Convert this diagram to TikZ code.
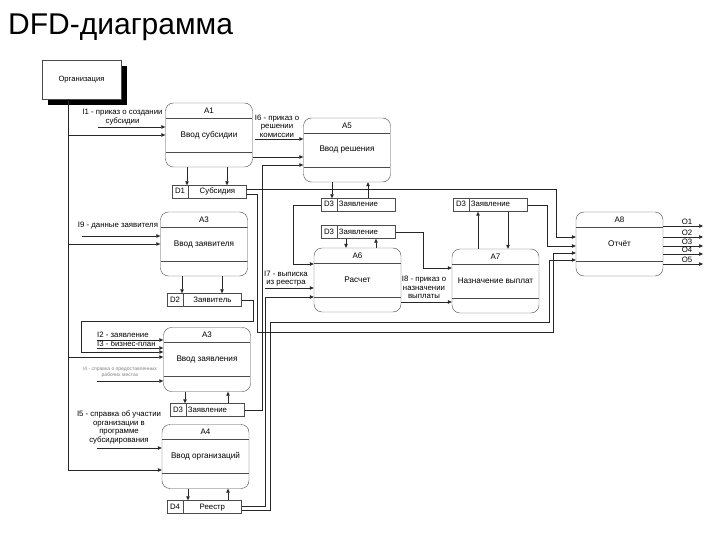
\documentclass[tikz,border=0pt]{standalone}
\usepackage{fontspec}
\setmainfont{Liberation Sans}
\usetikzlibrary{positioning}
\usetikzlibrary{arrows.meta}
\usetikzlibrary{shadows}

\tikzset{
  proc/.style={draw=black!70, rounded corners=8pt, minimum width=87pt, minimum height=64pt,
    inner sep=0pt, align=center, font=\fontsize{8.2}{9.5}\selectfont,
    path picture={
      \draw[black!70] ([yshift=-15pt]path picture bounding box.north west) -- ([yshift=-15pt]path picture bounding box.north east);
      \draw[black!70] ([yshift=15pt]path picture bounding box.south west) -- ([yshift=15pt]path picture bounding box.south east);
    }},
  pid/.style={label={[anchor=center, yshift=-7.5pt, font=\fontsize{8}{9}\selectfont]north:#1}},
  sid/.style={draw=black!70, minimum width=16pt, minimum height=13pt, inner sep=0pt,
    text height=5.5pt, text depth=1.5pt, font=\fontsize{7.8}{8.5}\selectfont},
  sname/.style={sid, minimum width=58pt},
  snamel/.style={sname, text width=55pt, inner xsep=1.5pt, align=left},
  flow/.style={draw=black!85, line width=0.5pt, -{Triangle[length=4pt, width=3.5pt]}},
  wire/.style={draw=black!85, line width=0.5pt},
  lbl/.style={font=\fontsize{7.8}{8.6}\selectfont, align=center, inner sep=0pt},
  faint/.style={font=\fontsize{5}{6}\selectfont, align=center, inner sep=0pt, text=black!50}
}

\begin{document}
\begin{tikzpicture}[x=1pt, y=-1pt]
  \useasboundingbox (0,0) rectangle (720,540);

  % title and external entity
  \node[anchor=base west, inner sep=0pt, font=\fontsize{30}{32}\selectfont] (title) at (8,35) {DFD-диаграмма};
  \node[draw=black!70, fill=white, minimum width=79pt, minimum height=39pt, font=\fontsize{7.6}{8.5}\selectfont,
        drop shadow={shadow xshift=6pt, shadow yshift=-6pt, opacity=1, fill=black}] (org) at (81.5,79.5) {Организация};

  % processes
  \node[proc, pid=A1] (a1) at (209,135) {Ввод субсидии};
  \node[proc, pid=A5] (a5) at (347,150) {Ввод решения};
  \node[proc, pid=A3] (a3) at (204,244) {Ввод заявителя};
  \node[proc, pid=A6] (a6) at (357.5,280) {Расчет};
  \node[proc, pid=A7] (a7) at (495.5,281) {Назначение выплат};
  \node[proc, pid=A8] (a8) at (619.5,244) {Отчёт};
  \node[proc, pid=A3] (a3b) at (207,359.5) {Ввод заявления};
  \node[proc, pid=A4] (a4) at (205.5,456.5) {Ввод организаций};

  % data stores
  \node[sid] (d1) at (180,192) {D1};
  \node[sname, right=0pt of d1] (d1n) {Субсидия};
  \node[sid] (d2) at (175,300) {D2};
  \node[sname, right=0pt of d2] (d2n) {Заявитель};
  \node[sid] (d3a) at (329,205) {D3};
  \node[snamel, right=0pt of d3a] (d3an) {Заявление};
  \node[sid] (d3b) at (329,232) {D3};
  \node[snamel, right=0pt of d3b] (d3bn) {Заявление};
  \node[sid] (d3c) at (461,205) {D3};
  \node[snamel, right=0pt of d3c] (d3cn) {Заявление};
  \node[sid] (d3d) at (178,410) {D3};
  \node[snamel, right=0pt of d3d] (d3dn) {Заявление};
  \node[sid] (d4) at (175,507) {D4};
  \node[sname, right=0pt of d4] (d4n) {Реестр};

  % organisation bus
  \coordinate (bus) at ([xshift=-13.5pt]org.south);
  \draw[flow] (bus) |- (a1.west);
  \draw[flow] (bus) |- (a3.west);
  \draw[flow] (bus) |- ([yshift=2.5pt]a3b.west);
  \draw[flow] (bus) |- ([yshift=-13.5pt]a4.west);

  % inputs
  \coordinate (i1) at (98,127);
  \coordinate (i6) at (255,139);
  \coordinate (i9) at (82,236);
  \coordinate (i2) at (97,340);
  \coordinate (i3) at (97,348);
  \coordinate (i4) at (97,381);
  \coordinate (i5) at (97,448);
  \coordinate (i7) at (265,288);
  \draw[flow] (i1) -- (i1 -| a1.west);
  \draw[flow] (i6) -- (i6 -| a5.west);
  \draw[flow] (i9) -- (i9 -| a3.west);
  \draw[flow] (i2) -- (i2 -| a3b.west);
  \draw[flow] (i3) -- (i3 -| a3b.west);
  \draw[flow] (i4) -- (i4 -| a3b.west);
  \draw[flow] (i5) -- (i5 -| a4.west);
  \draw[flow] (i7) -- (i7 -| a6.west);
  \node[lbl] (li1) at (122.5,117) {I1 - приказ о создании\\субсидии};
  \node[lbl] (li6) at (277,126) {I6 - приказ о\\решении\\комиссии};
  \node[lbl] (li9) at (118,226) {I9 - данные заявителя};
  \node[lbl, anchor=west] (li2) at (97,335) {I2 - заявление};
  \node[lbl, anchor=west] (li3) at (97,344) {I3 - бизнес-план};
  \node[faint] (li4) at (120,372) {I4 - справка о предоставленных\\рабочих местах};
  \node[lbl] (li5) at (119,427.5) {I5 - справка об участии\\организации в\\программе\\субсидирования};
  \node[lbl] (li7) at (286,278.5) {I7 - выписка\\из реестра};
  \node[lbl] (li8) at (424,287.5) {I8 - приказ о\\назначении\\выплаты};

  % process <-> store
  \draw[flow] ([xshift=-22pt]a1.south) -- ([xshift=-22pt]a1.south |- d1.north);
  \draw[flow] ([xshift=18pt]a1.south) -- ([xshift=18pt]a1.south |- d1.north);
  \draw[flow] ([xshift=-22pt]a3.south) -- ([xshift=-22pt]a3.south |- d2.north);
  \draw[flow] ([xshift=18pt]a3.south) -- ([xshift=18pt]a3.south |- d2.north);
  \draw[flow] ([xshift=-15pt]a5.south) -- ([xshift=-15pt]a5.south |- d3a.north);
  \draw[flow] ([xshift=21pt]a5.south |- d3a.north) -- ([xshift=21pt]a5.south);
  \draw[flow] ([xshift=-11.5pt]a6.north |- d3b.south) -- ([xshift=-11.5pt]a6.north);
  \draw[flow] ([xshift=18.5pt]a6.north) -- ([xshift=18.5pt]a6.north |- d3b.south);
  \draw[flow] ([xshift=-17.5pt]a7.north) -- ([xshift=-17.5pt]a7.north |- d3c.south);
  \draw[flow] ([xshift=12.5pt]a7.north |- d3c.south) -- ([xshift=12.5pt]a7.north);
  \draw[flow] ([xshift=-22pt]a3b.south) -- ([xshift=-22pt]a3b.south |- d3d.north);
  \draw[flow] ([xshift=21pt]a3b.south |- d3d.north) -- ([xshift=21pt]a3b.south);
  \draw[flow] ([xshift=-17.5pt]a4.south) -- ([xshift=-17.5pt]a4.south |- d4.north);
  \draw[flow] ([xshift=22.5pt]a4.south |- d4.north) -- ([xshift=22.5pt]a4.south);

  % flows between processes and stores
  \draw[flow] ([yshift=-22pt]a1.east) -- ([yshift=-22pt]a1.east -| a5.west);
  \draw[flow] ([yshift=-22pt]a6.east) -- ([yshift=-22pt]a6.east -| a7.west);
  \draw[flow] (d3dn.east) -| (262,165) -- ([yshift=-15pt]a5.west);
  \draw[flow] ([yshift=3pt]d1n.east) -| (556,237) -- ([yshift=7pt]a8.west);
  \draw[flow] ([yshift=-2pt]d1n.east) -| (257,332) -| (553,253) -- ([yshift=-9pt]a8.west);
  \draw[flow] (d2n.east) -| (253,321) -| (81,352) -- ([yshift=7.5pt]a3b.west);
  \draw[flow] (d3a.west) -| (293,264) -- ([yshift=16pt]a6.west);
  \draw[flow] (d3bn.east) -| (423,268) -- ([yshift=13pt]a7.west);
  \draw[flow] (d3cn.east) -| (547,246) -- ([yshift=-2pt]a8.west);
  \draw[flow] ([yshift=1pt]d4n.east) -| (265,297) -- ([yshift=-17pt]a6.west);
  \draw[flow] ([yshift=-3pt]d4n.east) -| (270,322) -| (549,260) -- ([yshift=-16pt]a8.west);

  % outputs
  \coordinate (o1) at (703,226);
  \coordinate (o2) at (703,237);
  \coordinate (o3) at (703,246);
  \coordinate (o4) at (703,254);
  \coordinate (o5) at (703,264);
  \draw[flow] (o1 -| a8.east) -- node[lbl, pos=0.6, above=1pt] (lo1) {O1} (o1);
  \draw[flow] (o2 -| a8.east) -- node[lbl, pos=0.6, above=1pt] (lo2) {O2} (o2);
  \draw[flow] (o3 -| a8.east) -- node[lbl, pos=0.6, above=1pt] (lo3) {O3} (o3);
  \draw[flow] (o4 -| a8.east) -- node[lbl, pos=0.6, above=1pt] (lo4) {O4} (o4);
  \draw[flow] (o5 -| a8.east) -- node[lbl, pos=0.6, above=1pt] (lo5) {O5} (o5);
\end{tikzpicture}
\end{document}
